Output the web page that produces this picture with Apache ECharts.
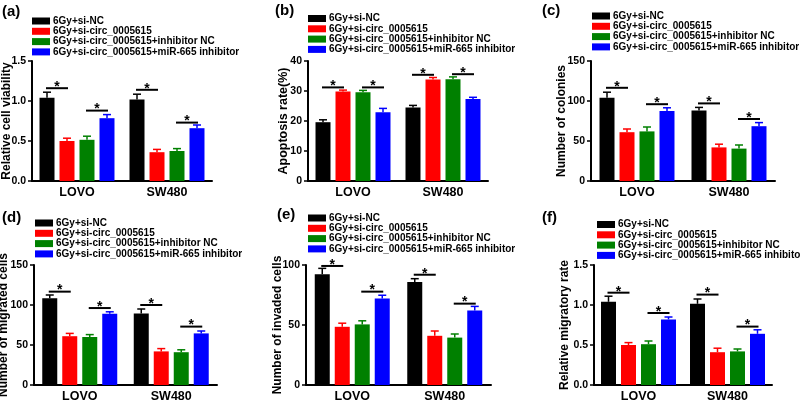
<!DOCTYPE html>
<html><head><meta charset="utf-8">
<script src="https://cdn.jsdelivr.net/npm/echarts@6/dist/echarts.min.js"></script>
<style>html,body{margin:0;padding:0;background:#fff}#c{width:800px;height:403px}</style>
</head><body><div id="c"></div>
<script>
// ---------- data ----------
const categories = ['LOVO', 'SW480'];
const groupNames = ['6Gy+si-NC', '6Gy+si-circ_0005615', '6Gy+si-circ_0005615+inhibitor NC', '6Gy+si-circ_0005615+miR-665 inhibitor'];
const groupColors = ['#000000', '#ff0000', '#008000', '#0000ff'];

// each row = one group, columns = [LOVO, SW480]
const viabilityMean = [[1.04, 1.02], [0.50, 0.36], [0.515, 0.375], [0.785, 0.66]];
const viabilityErr  = [[0.07, 0.065], [0.035, 0.035], [0.045, 0.03], [0.045, 0.04]];
const viabilitySig  = [[0, 1.16, 0, 1], [0, 0.88, 2, 3], [1, 1.14, 0, 1], [1, 0.73, 2, 3]];

const apoptosisMean = [[19.6, 24.5], [29.8, 33.8], [29.6, 33.9], [22.9, 27.3]];
const apoptosisErr  = [[0.8, 0.7], [0.5, 0.7], [0.6, 0.8], [1.3, 0.6]];
const apoptosisSig  = [[0, 31.2, 0, 1], [0, 31.2, 2, 3], [1, 35.4, 0, 1], [1, 35.6, 2, 3]];

const coloniesMean = [[104, 88], [61, 42], [62, 40.5], [87.5, 68.5]];
const coloniesErr  = [[7, 4], [4, 4], [5.5, 4.5], [4, 4.5]];
const coloniesSig  = [[0, 116.5, 0, 1], [0, 96, 2, 3], [1, 97, 0, 1], [1, 77.5, 2, 3]];

const migratedMean = [[108.5, 89.5], [61, 42], [60, 41], [89, 64.5]];
const migratedErr  = [[4, 5.5], [3.5, 3.5], [3, 3], [2.5, 3]];
const migratedSig  = [[0, 116.7, 0, 1], [0, 96.2, 2, 3], [1, 100, 0, 1], [1, 73, 2, 3]];

const invadedMean = [[92.2, 85.8], [48.5, 41], [50.5, 39.5], [72, 62]];
const invadedErr  = [[5, 2.8], [3, 4], [3, 3], [2.8, 3.5]];
const invadedSig  = [[0, 99.2, 0, 1], [0, 77.8, 2, 3], [1, 91.9, 0, 1], [1, 67.8, 2, 3]];

const migratoryMean = [[1.04, 1.015], [0.50, 0.41], [0.51, 0.42], [0.82, 0.64]];
const migratoryErr  = [[0.07, 0.06], [0.03, 0.05], [0.04, 0.03], [0.03, 0.05]];
const migratorySig  = [[0, 1.154, 0, 1], [0, 0.90, 2, 3], [1, 1.13, 0, 1], [1, 0.73, 2, 3]];

const panelLabels = ['(a)', '(b)', '(c)', '(d)', '(e)', '(f)'];
const yTitles = ['Relative cell viability', 'Apoptosis rate(%)', 'Number of colonies', 'Number of migrated cells', 'Number of invaded cells', 'Relative migratory rate'];
const yTickLabels = [
  ['0.0', '0.5', '1.0', '1.5'],
  ['0', '10', '20', '30', '40'],
  ['0', '50', '100', '150'],
  ['0', '50', '100', '150'],
  ['0', '50', '100'],
  ['0.0', '0.5', '1.0', '1.5']
];

const means = [viabilityMean, apoptosisMean, coloniesMean, migratedMean, invadedMean, migratoryMean];
const errs = [viabilityErr, apoptosisErr, coloniesErr, migratedErr, invadedErr, migratoryErr];
const sigs = [viabilitySig, apoptosisSig, coloniesSig, migratedSig, invadedSig, migratorySig];

// ---------- layout ----------
const layout = [
  { left: 32,  width: 180, top: 61,  lx: 2,   ly: 4,   lgLeft: 32,  lgTop: 16, nameGap: 19, nameSize: 12 },
  { left: 308, width: 180, top: 61,  lx: 275, ly: 3,   lgLeft: 308, lgTop: 13.5, nameGap: 18, nameSize: 12.5 },
  { left: 591, width: 184, top: 61,  lx: 542, ly: 3,   lgLeft: 592, lgTop: 11, nameGap: 23, nameSize: 12 },
  { left: 34,  width: 183, top: 265, lx: 2,   ly: 210, lgLeft: 35,  lgTop: 218, nameGap: 24, nameSize: 12 },
  { left: 306, width: 185, top: 265, lx: 277, ly: 207, lgLeft: 308, lgTop: 213, nameGap: 22, nameSize: 12 },
  { left: 594, width: 178, top: 265, lx: 542, ly: 210, lgLeft: 597, lgTop: 219.5, nameGap: 23, nameSize: 12 }
];
const FONT = 'Liberation Sans, Arial, sans-serif';
const BAR_W = 15, BAR_STEP = 20;

const grids = [], xAxes = [], yAxes = [], series = [], legends = [], graphics = [];

layout.forEach((L, p) => {
  grids.push({ left: L.left, top: L.top, width: L.width, height: 120, outerBoundsMode: 'none', containLabel: false });
  xAxes.push({
    type: 'category', gridIndex: p, data: categories,
    axisLine: { lineStyle: { color: '#000', width: 2 } },
    axisTick: { alignWithLabel: true, length: 4, lineStyle: { color: '#000', width: 1.5 } },
    axisLabel: { color: '#000', fontSize: 12.5, fontWeight: 'bold', fontFamily: FONT, margin: 5 },
    splitLine: { show: false }
  });
  const ticks = yTickLabels[p].map(Number);
  yAxes.push({
    type: 'value', gridIndex: p, min: ticks[0], max: ticks[ticks.length - 1], interval: ticks[1] - ticks[0],
    name: yTitles[p], nameLocation: 'middle', nameGap: L.nameGap, nameMoveOverlap: false,
    nameTextStyle: { color: '#000', fontSize: L.nameSize, fontWeight: 'bold', fontFamily: FONT },
    axisLine: { show: true, lineStyle: { color: '#000', width: 2 } },
    axisTick: { show: true, length: 4, lineStyle: { color: '#000', width: 1.5 } },
    axisLabel: {
      color: '#000', fontSize: 10.5, fontWeight: 'bold', fontFamily: FONT, margin: 6,
      formatter: v => { const k = ticks.findIndex(t => Math.abs(t - v) < 1e-9); return k >= 0 ? yTickLabels[p][k] : ''; }
    },
    splitLine: { show: false }
  });
  legends.push({
    data: groupNames, orient: 'vertical', left: L.lgLeft, top: L.lgTop, padding: 0,
    icon: 'rect', itemWidth: 18, itemHeight: 7, itemGap: 0.3, selectedMode: false,
    textStyle: { color: '#000', fontSize: 10, fontWeight: 'bold', fontFamily: FONT, lineHeight: 9, padding: [0, 0, 0, -2] }
  });
  graphics.push({
    type: 'text', left: L.lx, top: L.ly,
    style: { text: panelLabels[p], fill: '#000', font: 'bold 15px ' + FONT }
  });
  groupNames.forEach((g, i) => {
    series.push({
      type: 'bar', name: g, xAxisIndex: p, yAxisIndex: p, data: means[p][i],
      barWidth: BAR_W, barGap: '33.3%', itemStyle: { color: groupColors[i] }, z: 2, animation: false
    });
  });
  const errData = [];
  for (let i = 0; i < 4; i++) for (let c = 0; c < 2; c++) errData.push([c, means[p][i][c], errs[p][i][c], i]);
  series.push({
    type: 'custom', xAxisIndex: p, yAxisIndex: p, data: errData, z: 3, animation: false,
    encode: { x: 0, y: 1 }, silent: true,
    renderItem: (params, api) => {
      const c = api.value(0), v = api.value(1), e = api.value(2), i = api.value(3);
      const base = api.coord([c, v]);
      const top = api.coord([c, v + e]);
      const x = base[0] + (i - 1.5) * BAR_STEP;
      const col = groupColors[i];
      return { type: 'group', children: [
        { type: 'line', shape: { x1: x, y1: base[1], x2: x, y2: top[1] }, style: { stroke: col, lineWidth: 1.5 } },
        { type: 'line', shape: { x1: x - 4, y1: top[1], x2: x + 4, y2: top[1] }, style: { stroke: col, lineWidth: 1.5 } }
      ] };
    }
  });
  series.push({
    type: 'custom', xAxisIndex: p, yAxisIndex: p, data: sigs[p], z: 4, animation: false,
    encode: { x: 0, y: 1 }, silent: true,
    renderItem: (params, api) => {
      const c = api.value(0), y = api.value(1), i1 = api.value(2), i2 = api.value(3);
      const pt = api.coord([c, y]);
      const x1 = pt[0] + (i1 - 1.5) * BAR_STEP - 1;
      const x2 = pt[0] + (i2 - 1.5) * BAR_STEP + 1;
      return { type: 'group', children: [
        { type: 'line', shape: { x1: x1, y1: pt[1], x2: x2, y2: pt[1] }, style: { stroke: '#000', lineWidth: 2 } },
        { type: 'text', x: (x1 + x2) / 2, y: pt[1] - 1,
          style: { text: '*', fill: '#000', font: 'bold 14px ' + FONT, align: 'center', verticalAlign: 'middle' } }
      ] };
    }
  });
});

const chart = echarts.init(document.getElementById('c'), null, { renderer: 'canvas' });
chart.setOption({
  animation: false,
  backgroundColor: '#fff',
  grid: grids, xAxis: xAxes, yAxis: yAxes, legend: legends, series: series, graphic: graphics
});
</script>
</body></html>
